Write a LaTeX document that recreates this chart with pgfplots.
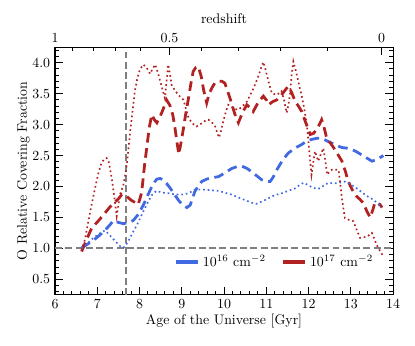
\documentclass[border=0pt]{standalone}
\usepackage{pgfplots}
\pgfplotsset{compat=1.18}
\usetikzlibrary{calc}

\definecolor{cblue}{RGB}{65,105,225}
\definecolor{cred}{RGB}{178,34,34}
\definecolor{cgray}{RGB}{128,128,128}

\pgfplotsset{
  frac/.style={scale only axis, width=243.4pt, height=178.3pt,
    xmin=6, xmax=14, ymin=0.25, ymax=4.25,
    tick align=inside, major tick length=5.5pt, minor tick length=3pt,
    every tick/.style={black, line width=0.7pt},
    axis line style={line width=0.8pt}},
  dsh/.style={line width=2pt, dash pattern=on 7pt off 4pt},
  dot/.style={line width=1.2pt, dash pattern=on 1.2pt off 2.1pt},
}

\begin{document}
\begin{tikzpicture}
\begin{axis}[frac, name=ax,
    xtick={6,7,...,14}, minor xtick={6.2,6.4,...,13.8},
    ytick={0.5,1.0,1.5,2.0,2.5,3.0,3.5,4.0}, minor ytick={0.3,0.4,...,4.2},
    xtick pos=left,
    yticklabel style={/pgf/number format/.cd, fixed, fixed zerofill, precision=1},
    xlabel={Age of the Universe [Gyr]},
    ylabel={O Relative Covering Fraction},
    ylabel shift=-5pt, xlabel shift=-3pt,
    legend style={draw=none, fill=none, at={(0.962,0.133)}, anchor=east,
      legend columns=2, /tikz/every even column/.append style={column sep=9pt},
      nodes={inner xsep=2pt}},
    legend image code/.code={\draw[solid, line width=3pt] (0pt,0pt) -- (15.8pt,0pt);},
]
% reference lines
\addplot[cgray, line width=1.5pt, dash pattern=on 5pt off 2.4pt, forget plot] coordinates {(6,1) (14,1)};
\addplot[cgray, line width=1.5pt, dash pattern=on 5pt off 2.4pt, forget plot] coordinates {(7.67,0.25) (7.67,4.25)};

% 1e16, dashed
\addplot[cblue, dsh] coordinates {
(6.63,1.01) (6.75,1.06) (6.91,1.13) (7.05,1.21) (7.18,1.29) (7.30,1.38) (7.38,1.45)
(7.50,1.42) (7.62,1.40) (7.75,1.42) (7.85,1.45) (7.97,1.55) (8.09,1.70) (8.17,1.82)
(8.25,1.94) (8.33,2.05) (8.41,2.12) (8.49,2.13) (8.56,2.11) (8.64,2.05) (8.72,1.98)
(8.82,1.88) (8.92,1.78) (9.02,1.70) (9.12,1.66) (9.20,1.70) (9.31,1.92) (9.40,2.02)
(9.47,2.08) (9.59,2.12) (9.71,2.14) (9.87,2.16) (10.02,2.22) (10.18,2.29) (10.30,2.32)
(10.42,2.33) (10.55,2.29) (10.65,2.24) (10.78,2.17) (10.89,2.11) (11.00,2.08) (11.09,2.08)
(11.17,2.16) (11.25,2.27) (11.38,2.42) (11.52,2.54) (11.68,2.62) (11.84,2.68) (11.95,2.73)
(12.07,2.76) (12.20,2.78) (12.31,2.78) (12.43,2.74) (12.55,2.70) (12.67,2.66) (12.79,2.63)
(12.90,2.62) (13.02,2.60) (13.14,2.56) (13.26,2.51) (13.38,2.46) (13.50,2.41) (13.60,2.43)
(13.70,2.47) (13.77,2.50)
};
\addlegendentry{$10^{16}\ \mathrm{cm}^{-2}$}

% 1e17, dashed
\addplot[cred, dsh] coordinates {
(6.63,0.95) (6.75,1.15) (6.87,1.33) (7.02,1.44) (7.18,1.57) (7.30,1.67) (7.40,1.74)
(7.50,1.80) (7.58,1.87) (7.70,1.84) (7.80,1.78) (7.90,1.74) (7.97,1.71) (8.05,1.90)
(8.12,2.35) (8.17,2.62) (8.23,2.95) (8.29,3.16) (8.35,3.08) (8.41,3.03) (8.50,3.15)
(8.56,3.25) (8.64,3.40) (8.72,3.31) (8.79,3.15) (8.84,2.94) (8.89,2.70) (8.93,2.52)
(8.98,2.70) (9.04,2.94) (9.10,3.20) (9.16,3.43) (9.22,3.68) (9.27,3.86) (9.33,3.92)
(9.39,3.94) (9.46,3.78) (9.52,3.55) (9.59,3.35) (9.65,3.50) (9.71,3.59) (9.79,3.68)
(9.87,3.70) (9.95,3.70) (10.02,3.67) (10.08,3.55) (10.14,3.43) (10.22,3.25) (10.28,3.12)
(10.34,3.03) (10.44,3.20) (10.54,3.32) (10.62,3.27) (10.69,3.21) (10.80,3.35) (10.93,3.46)
(11.00,3.40) (11.05,3.32) (11.15,3.37) (11.25,3.40) (11.36,3.48) (11.45,3.56) (11.52,3.62)
(11.60,3.52) (11.68,3.38) (11.76,3.30) (11.84,3.21) (11.94,3.02) (12.04,2.84) (12.12,2.86)
(12.20,2.93) (12.27,3.02) (12.31,3.08) (12.37,2.95) (12.43,2.78) (12.53,2.69) (12.63,2.59)
(12.71,2.50) (12.79,2.41) (12.87,2.25) (12.94,2.08) (13.04,1.94) (13.14,1.84) (13.22,1.79)
(13.30,1.73) (13.38,1.60) (13.46,1.50) (13.52,1.62) (13.57,1.74) (13.63,1.73) (13.69,1.71)
(13.74,1.66)
};
\addlegendentry{$10^{17}\ \mathrm{cm}^{-2}$}

% 1e16, dotted
\addplot[cblue, dot, forget plot] coordinates {
(6.63,1.00) (6.75,1.07) (6.91,1.17) (7.05,1.24) (7.18,1.29) (7.30,1.21) (7.42,1.12)
(7.55,1.03) (7.62,1.01) (7.72,1.10) (7.85,1.27) (7.97,1.42) (8.09,1.60) (8.20,1.75)
(8.30,1.87) (8.40,1.93) (8.55,1.90) (8.70,1.89) (8.85,1.87) (9.00,1.87) (9.16,1.89)
(9.31,1.95) (9.50,1.95) (9.70,1.94) (9.87,1.93) (10.02,1.90) (10.18,1.87) (10.35,1.82)
(10.50,1.78) (10.65,1.74) (10.77,1.72) (10.90,1.76) (11.05,1.81) (11.20,1.86) (11.36,1.89)
(11.52,1.93) (11.68,1.97) (11.80,2.03) (11.88,2.06) (12.00,2.02) (12.10,1.98) (12.23,1.96)
(12.35,2.01) (12.47,2.06) (12.60,2.05) (12.72,2.06) (12.86,2.08) (12.98,2.04) (13.10,1.99)
(13.22,1.93) (13.35,1.86) (13.45,1.82) (13.53,1.79) (13.63,1.73) (13.73,1.66)
};

% 1e17, dotted
\addplot[cred, dot, forget plot] coordinates {
(6.63,0.97) (6.71,1.15) (6.79,1.44) (6.87,1.72) (6.95,1.98) (7.02,2.20) (7.10,2.38)
(7.16,2.44) (7.22,2.46) (7.27,2.40) (7.30,2.30) (7.35,2.10) (7.40,1.85) (7.46,1.52)
(7.50,1.70) (7.54,1.87) (7.62,2.03) (7.66,2.18) (7.70,2.35) (7.74,2.62) (7.78,2.89)
(7.84,3.25) (7.89,3.54) (7.95,3.75) (8.01,3.89) (8.09,3.97) (8.17,3.92) (8.25,3.82)
(8.31,3.90) (8.37,3.97) (8.43,3.85) (8.49,3.70) (8.55,3.55) (8.60,3.43) (8.64,3.70)
(8.68,3.97) (8.72,3.82) (8.76,3.64) (8.84,3.55) (8.92,3.48) (9.04,3.40) (9.10,3.25)
(9.16,3.11) (9.25,3.02) (9.35,2.97) (9.47,3.02) (9.55,3.06) (9.63,3.08) (9.71,3.04)
(9.79,2.97) (9.85,2.85) (9.88,2.79) (9.93,2.90) (9.98,3.05) (10.04,3.20) (10.10,3.32)
(10.16,3.30) (10.22,3.27) (10.28,3.25) (10.34,3.24) (10.44,3.30) (10.54,3.37) (10.62,3.48)
(10.68,3.56) (10.73,3.64) (10.80,3.76) (10.85,3.86) (10.90,3.96) (10.93,4.01) (10.97,3.92)
(11.01,3.81) (11.07,3.65) (11.13,3.51) (11.20,3.49) (11.25,3.48) (11.31,3.51) (11.36,3.54)
(11.42,3.40) (11.48,3.19) (11.52,3.30) (11.56,3.48) (11.60,3.80) (11.64,4.02) (11.68,3.92)
(11.72,3.81) (11.78,3.63) (11.84,3.46) (11.90,3.25) (11.96,3.00) (12.00,2.70) (12.04,2.40)
(12.07,2.19) (12.11,2.38) (12.15,2.57) (12.19,2.49) (12.23,2.41) (12.29,2.52) (12.35,2.62)
(12.40,2.40) (12.44,2.19) (12.50,2.24) (12.55,2.27) (12.63,2.27) (12.71,2.27) (12.75,2.05)
(12.79,1.81) (12.83,1.62) (12.86,1.49) (12.96,1.46) (13.06,1.44) (13.14,1.30) (13.22,1.17)
(13.30,1.18) (13.38,1.19) (13.44,1.22) (13.50,1.25) (13.56,1.15) (13.61,1.06) (13.69,0.96)
(13.77,0.87)
};
\end{axis}

% redshift axis on top
\begin{axis}[frac,
    axis x line*=top, axis y line=none,
    xtick={6.0,8.71,13.73}, xticklabels={1,0.5,0},
    minor xtick={6.42,6.91,7.44,8.03,9.455,10.34,11.33,12.45},
    xlabel={redshift},
]
\end{axis}

\path ($(ax.south west)+(-39.6pt,-36.7pt)$) rectangle ($(ax.north east)+(15.8pt,34pt)$);
\end{tikzpicture}
\end{document}
